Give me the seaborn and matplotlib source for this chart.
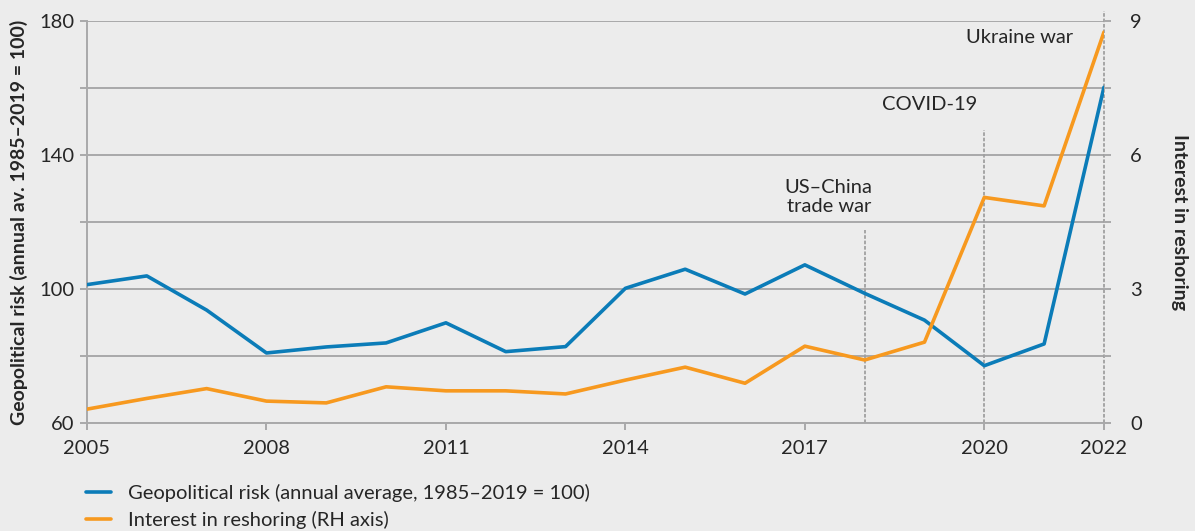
import matplotlib
matplotlib.use("Agg")
import matplotlib.pyplot as plt
import numpy as np
import pandas as pd
import seaborn as sns

# Values
years = list(range(2005, 2023))
geo_risk = [101.3, 103.9, 93.7, 80.9, 82.7, 83.9, 89.9, 81.3, 82.8, 100.2,
            105.9, 98.5, 107.2, 98.7, 90.7, 77.1, 83.6, 160.2]
reshoring = [0.31, 0.55, 0.77, 0.49, 0.45, 0.81, 0.72, 0.72, 0.65, 0.96,
             1.25, 0.89, 1.72, 1.41, 1.81, 5.05, 4.86, 8.75]
event_years = [2018, 2020, 2022]
event_labels = ["US\u2013China\ntrade war", "COVID-19", "Ukraine war"]
x_ticks = [2005, 2008, 2011, 2014, 2017, 2020, 2022]
left_labels = [60, 100, 140, 180]
right_labels = [0, 3, 6, 9]

BG = "#ececec"
GRID = "#a9a9aa"
BLUE = "#0b7cb8"
ORANGE = "#f7991f"
FS = 14.5

sns.set_theme(style="white")
plt.rcParams["font.family"] = ["Lato", "DejaVu Sans"]

df = pd.DataFrame({"year": years, "geo": geo_risk, "reshoring": reshoring})

fig = plt.figure(figsize=(11.95, 5.31), dpi=100, facecolor=BG)
ax = fig.add_axes([0.0728, 0.2034, 0.8510, 0.7571])
ax.set_facecolor(BG)
ax2 = ax.twinx()

# horizontal grid drawn from left axis
ax.set_ylim(60, 180)
ax.set_yticks(np.arange(60, 181, 20))
ax.set_yticklabels([str(v) if v in left_labels else "" for v in range(60, 181, 20)])
ax.yaxis.grid(True, color=GRID, linewidth=1.4)
ax.xaxis.grid(False)
ax.set_axisbelow(True)

ax2.set_ylim(0, 9)
ax2.set_yticks(np.arange(0, 9.01, 1.5))
ax2.set_yticklabels([str(int(v)) if v in right_labels else "" for v in np.arange(0, 9.01, 1.5)])

ax.set_xlim(2005, 2022)
ax.set_xticks(x_ticks)

for a in (ax, ax2):
    for s in a.spines.values():
        s.set_visible(False)
ax.spines["left"].set_visible(True)
ax.spines["left"].set_color(GRID)
ax.spines["left"].set_linewidth(1.4)
ax.spines["bottom"].set_visible(True)
ax.spines["bottom"].set_color(GRID)
ax.spines["bottom"].set_linewidth(1.4)

ax.tick_params(axis="y", length=5, width=1.4, color=GRID, labelsize=FS, pad=4)
ax.tick_params(axis="x", length=5, width=1.4, color=GRID, labelsize=FS, pad=7, bottom=True)
ax2.tick_params(axis="y", length=5, width=1.4, color=GRID, labelsize=FS, pad=14, right=True)

# event markers
tops = [0.48, 0.73, 1.025]
for yr, top in zip(event_years, tops):
    ax.axvline(yr, ymin=0, ymax=top, color="#a0a0a0", linestyle=(0, (2, 1)),
               linewidth=1.3, clip_on=False, zorder=1)

sns.lineplot(data=df, x="year", y="geo", ax=ax, color=BLUE, linewidth=2.6,
             label="Geopolitical risk (annual average, 1985\u20132019 = 100)", legend=False, zorder=3)
sns.lineplot(data=df, x="year", y="reshoring", ax=ax2, color=ORANGE, linewidth=2.6,
             label="Interest in reshoring (RH axis)", legend=False, zorder=3)

ax.set_xlabel("")
ax.set_ylabel("Geopolitical risk (annual av. 1985\u20132019 = 100)", fontsize=14,
              fontweight="bold", labelpad=8)
ax2.set_ylabel("Interest in reshoring", fontsize=14, fontweight="bold",
               rotation=270, labelpad=33)

ax.text(2017.4, 127.5, event_labels[0], ha="center", va="center", fontsize=FS, linespacing=1.15)
ax.text(2019.08, 155, event_labels[1], ha="center", va="center", fontsize=FS)
ax.text(2021.49, 175, event_labels[2], ha="right", va="center", fontsize=FS)

h1, l1 = ax.get_legend_handles_labels()
h2, l2 = ax2.get_legend_handles_labels()
fig.legend(h1 + h2, l1 + l2, loc="upper left", bbox_to_anchor=(0.072, 0.088),
           frameon=False, fontsize=FS, handlelength=1.25, handletextpad=0.85,
           labelspacing=0.45, borderaxespad=0, borderpad=0)

fig.savefig("out.png", dpi=100, facecolor=BG)
